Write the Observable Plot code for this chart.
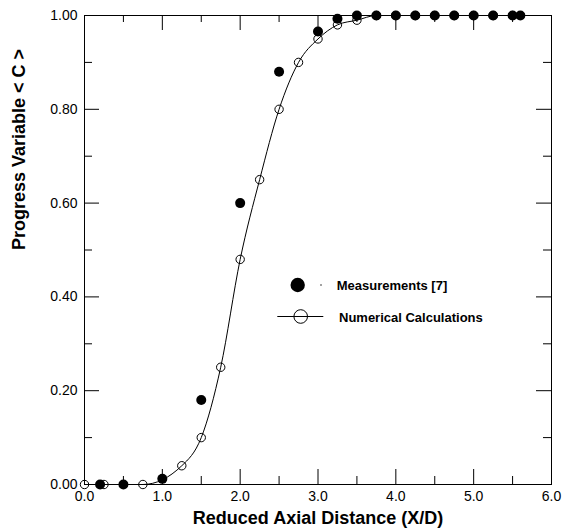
<!DOCTYPE html>
<html>
<head>
<meta charset="utf-8">
<script src="https://cdn.jsdelivr.net/npm/d3@7"></script>
<script src="https://cdn.jsdelivr.net/npm/@observablehq/plot@0.6"></script>
<style>
  html, body { margin: 0; padding: 0; background: #fff; }
</style>
</head>
<body>
<div id="chart"></div>
<script>
// Numerical calculations (open circles + smooth line)
const numX = [0, 0.25, 0.75, 1.25, 1.5, 1.75, 2.0, 2.25, 2.5, 2.75, 3.0, 3.25, 3.5, 3.75, 4.0, 4.25, 4.5, 4.75, 5.0, 5.25, 5.5];
const numY = [0, 0, 0, 0.04, 0.10, 0.25, 0.48, 0.65, 0.80, 0.90, 0.95, 0.98, 0.99, 1, 1, 1, 1, 1, 1, 1, 1];
// Measurements [7] (filled circles)
const measX = [0.2, 0.5, 1.0, 1.5, 2.0, 2.5, 3.0, 3.25, 3.5, 3.75, 4.0, 4.25, 4.5, 4.75, 5.0, 5.25, 5.5, 5.6];
const measY = [0, 0, 0.012, 0.18, 0.60, 0.88, 0.966, 0.993, 1, 1, 1, 1, 1, 1, 1, 1, 1, 1];
// Tick values
const xMajor = [0, 1, 2, 3, 4, 5, 6];
const xMinor = [0.5, 1.5, 2.5, 3.5, 4.5, 5.5];
const yMajor = [0, 0.2, 0.4, 0.6, 0.8, 1.0];
const yMinor = [0.1, 0.3, 0.5, 0.7, 0.9];
// Texts
const xTitle = "Reduced Axial Distance (X/D)";
const yTitle = "Progress Variable < C >";
const legendLabels = ["Measurements [7]", "Numerical Calculations"];

const numData = numX.map((x, i) => ({x, y: numY[i]}));
const measData = measX.map((x, i) => ({x, y: measY[i]}));

const W = 562, H = 531;
const mL = 84, mR = 11, mT = 15, mB = 47;
const pW = W - mL - mR, pH = H - mT - mB;
const FONT = "'Liberation Sans', Arial, Helvetica, sans-serif";

function legend(index, scales, values, dims) {
  const g = d3.create("svg:g").attr("font-family", FONT).attr("text-anchor", "start");
  const ox = dims.marginLeft, oy = dims.marginTop;
  // Row 1: measurements
  g.append("circle").attr("cx", ox + 213.7).attr("cy", oy + 270).attr("r", 7.2).attr("fill", "black");
  g.append("circle").attr("cx", ox + 237).attr("cy", oy + 270).attr("r", 0.7).attr("fill", "black");
  g.append("text").attr("x", ox + 252.7).attr("y", oy + 270).attr("dy", "0.35em").attr("text-anchor", "start")
    .attr("font-size", 13).attr("font-weight", "bold").attr("fill", "black").text(legendLabels[0]);
  // Row 2: numerical
  g.append("line").attr("x1", ox + 193.3).attr("x2", ox + 239.3).attr("y1", oy + 301.5).attr("y2", oy + 301.5)
    .attr("stroke", "black").attr("stroke-width", 1);
  g.append("circle").attr("cx", ox + 216.7).attr("cy", oy + 301.5).attr("r", 6.8)
    .attr("fill", "none").attr("stroke", "black").attr("stroke-width", 1);
  g.append("text").attr("x", ox + 255).attr("y", oy + 302).attr("dy", "0.35em").attr("text-anchor", "start")
    .attr("font-size", 13).attr("font-weight", "bold").attr("fill", "black").text(legendLabels[1]);
  return g.node();
}

const chart = Plot.plot({
  width: W,
  height: H,
  marginLeft: mL,
  marginRight: mR,
  marginTop: mT,
  marginBottom: mB,
  style: {fontFamily: FONT, fontSize: "14px", background: "white", color: "black", overflow: "visible"},
  x: {domain: [0, 6], axis: null},
  y: {domain: [0, 1], axis: null},
  marks: [
    Plot.frame({stroke: "black", strokeWidth: 1}),
    // bottom ticks (inward)
    Plot.ruleX(xMajor, {insetTop: pH - 15, stroke: "black"}),
    Plot.ruleX(xMinor, {insetTop: pH - 8, stroke: "black"}),
    // top ticks (inward)
    Plot.ruleX(xMajor, {insetBottom: pH - 15, stroke: "black"}),
    Plot.ruleX(xMinor, {insetBottom: pH - 7, stroke: "black"}),
    // left ticks (inward)
    Plot.ruleY(yMajor, {insetRight: pW - 15, stroke: "black"}),
    Plot.ruleY(yMinor, {insetRight: pW - 8, stroke: "black"}),
    // right ticks (inward)
    Plot.ruleY(yMajor, {insetLeft: pW - 15, stroke: "black"}),
    Plot.ruleY(yMinor, {insetLeft: pW - 8, stroke: "black"}),
    Plot.axisX({ticks: xMajor, tickSize: 0, tickPadding: 7, tickFormat: d3.format(".1f"), label: null, fontSize: 14}),
    Plot.axisY({ticks: yMajor, tickSize: 0, tickPadding: 7, tickFormat: d3.format(".2f"), label: null, fontSize: 14}),
    Plot.text([xTitle], {frameAnchor: "bottom", dy: 34, lineAnchor: "middle", fontSize: 18, fontWeight: "bold", fill: "black"}),
    Plot.text([yTitle], {frameAnchor: "left", rotate: -90, dx: -65.2, lineAnchor: "middle", fontSize: 18, fontWeight: "bold", fill: "black"}),
    Plot.line(numData, {x: "x", y: "y", curve: "monotone-x", stroke: "black", strokeWidth: 1}),
    Plot.dot(numData, {x: "x", y: "y", r: 4.2, stroke: "black", fill: "none", strokeWidth: 1}),
    Plot.dot(measData, {x: "x", y: "y", r: 5, fill: "black", stroke: "none"}),
    legend
  ]
});
document.getElementById("chart").appendChild(chart);
</script>
</body>
</html>
